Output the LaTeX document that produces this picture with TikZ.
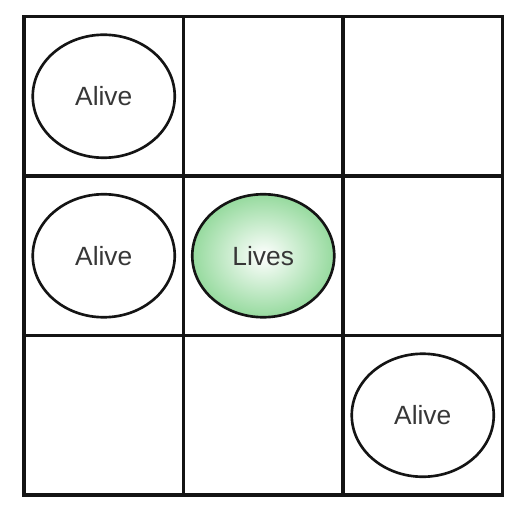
\documentclass[tikz,border=0pt]{standalone}
\usepackage{fontspec}
\setmainfont{Liberation Sans}
\usetikzlibrary{shapes.geometric, positioning, calc}
\definecolor{gridblack}{RGB}{20, 20, 20}
\definecolor{textgray}{RGB}{55, 55, 55}
\definecolor{livegreen}{RGB}{150, 218, 158}

\begin{document}
\begin{tikzpicture}[
        cellline/.style={draw=gridblack, line width=2pt, line cap=rect},
        alive/.style={ellipse, draw=gridblack, line width=1.5pt, fill=white, minimum width=2.84cm, minimum height=2.46cm, text=textgray, font=\fontsize{15}{18}\selectfont},
        lives/.style={alive, inner color=white, outer color=livegreen},
    ]
    \useasboundingbox (0,0) rectangle (10.14,10.10);

    % Grid 3x3
    \foreach \i in {0,...,3} {
        \draw[cellline] (0.48+3.19*\i, 0.20) -- (0.48+3.19*\i, 9.77);
        \draw[cellline] (0.48, 0.20+3.19*\i) -- (10.05, 0.20+3.19*\i);
    }

    % Cells
    \node[alive] (topleft) at (2.075, 8.175) {Alive};
    \node[alive] (midleft) at (2.075, 4.985) {Alive};
    \node[lives] (center) at (5.265, 4.985) {Lives};
    \node[alive] (botright) at (8.455, 1.795) {Alive};

\end{tikzpicture}
\end{document}
